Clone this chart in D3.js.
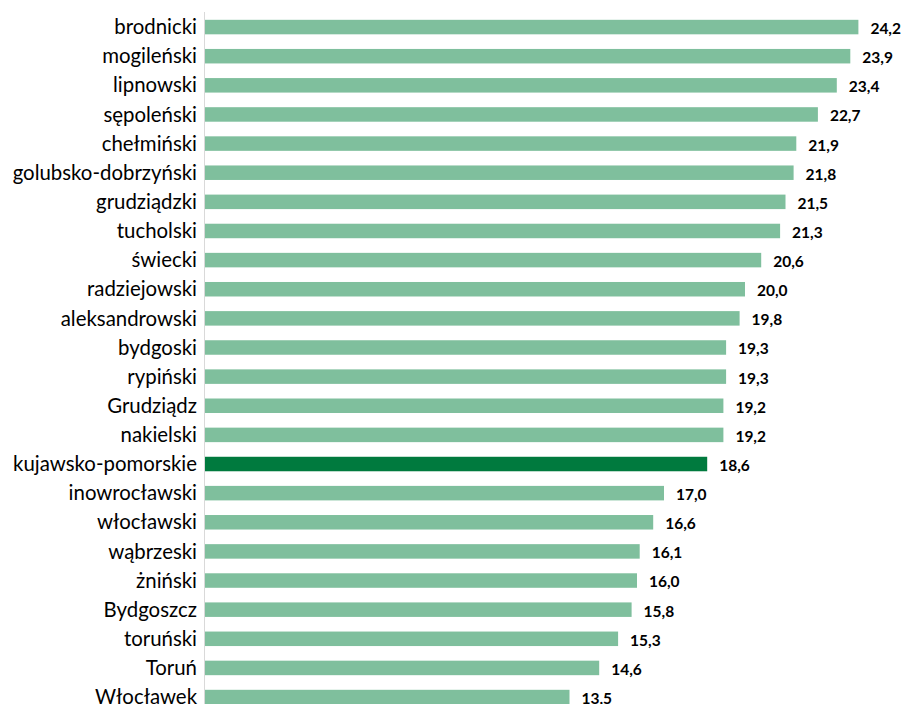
<!DOCTYPE html>
<html>
<head>
<meta charset="utf-8">
<script src="https://cdn.jsdelivr.net/npm/d3@7"></script>
<style>
  body { margin: 0; background: #fff; }
  svg { display: block; }
</style>
</head>
<body>
<svg id="chart" width="902" height="704"></svg>
<script>
// powiaty, sorted by value
var regions = [
  "brodnicki", "mogileński", "lipnowski", "sępoleński", "chełmiński",
  "golubsko-dobrzyński", "grudziądzki", "tucholski", "świecki", "radziejowski",
  "aleksandrowski", "bydgoski", "rypiński", "Grudziądz", "nakielski",
  "kujawsko-pomorskie", "inowrocławski", "włocławski", "wąbrzeski", "żniński",
  "Bydgoszcz", "toruński", "Toruń", "Włocławek"
];
var values = [
  24.2, 23.9, 23.4, 22.7, 21.9,
  21.8, 21.5, 21.3, 20.6, 20.0,
  19.8, 19.3, 19.3, 19.2, 19.2,
  18.6, 17.0, 16.6, 16.1, 16.0,
  15.8, 15.3, 14.6, 13.5
];
var highlight = "kujawsko-pomorskie";

var svg = d3.select("#chart");

var x0 = 205,
    rowTop = 12.5,
    rowStep = 29.13,
    barH = 14.5;

var x = d3.scaleLinear().domain([0, 24.2]).range([x0, 858.4]);

var y = d3.scaleBand()
    .domain(regions)
    .range([rowTop, rowTop + rowStep * regions.length])
    .paddingInner(1 - barH / rowStep)
    .paddingOuter((1 - barH / rowStep) / 2);

var data = regions.map(function(r, i) { return {name: r, value: values[i]}; });

// category axis line
svg.append("line")
    .attr("x1", x0 - 0.5).attr("x2", x0 - 0.5)
    .attr("y1", 12).attr("y2", 704)
    .attr("stroke", "#d9d9d9")
    .attr("stroke-width", 1);

svg.append("g").selectAll("rect")
    .data(data)
    .enter().append("rect")
    .attr("x", x(0))
    .attr("y", function(d) { return y(d.name); })
    .attr("width", function(d) { return x(d.value) - x(0); })
    .attr("height", y.bandwidth())
    .attr("fill", function(d) { return d.name === highlight ? "#007a3e" : "#7fbf9d"; });

// category labels
svg.append("g").selectAll("text")
    .data(data)
    .enter().append("text")
    .attr("x", 197)
    .attr("y", function(d) { return y(d.name) + y.bandwidth() / 2; })
    .attr("dy", "0.35em")
    .attr("text-anchor", "end")
    .attr("font-family", "Lato, 'Liberation Sans', sans-serif")
    .attr("font-size", 20.4)
    .attr("fill", "#000")
    .text(function(d) { return d.name; });

// value labels
svg.append("g").selectAll("text")
    .data(data)
    .enter().append("text")
    .attr("x", function(d) { return x(d.value) + 12; })
    .attr("y", function(d) { return y(d.name) + y.bandwidth() / 2 + 1.5; })
    .attr("dy", "0.35em")
    .attr("font-family", "Lato, 'Liberation Sans', sans-serif")
    .attr("font-weight", "bold")
    .attr("font-size", 15.5)
    .attr("fill", "#000")
    .text(function(d) { return d3.format(".1f")(d.value).replace(".", ","); });
</script>
</body>
</html>
